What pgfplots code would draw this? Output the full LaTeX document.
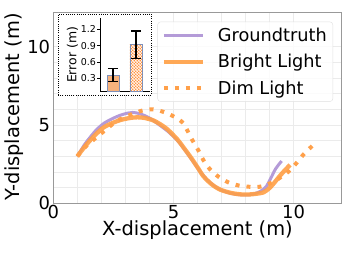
\documentclass[border=0pt]{standalone}
\usepackage{pgfplots}
\pgfplotsset{compat=1.18}
\usepackage{fontspec}
\setmainfont{DejaVu Sans}
\usetikzlibrary{patterns}
\pgfdeclarepatternformonly{densedots}{\pgfpoint{-0.5bp}{-0.5bp}}{\pgfpoint{3.5bp}{3.5bp}}{\pgfpoint{3bp}{3bp}}{%
  \pgfpathcircle{\pgfpoint{0.75bp}{0.75bp}}{0.85bp}%
  \pgfpathcircle{\pgfpoint{2.25bp}{2.25bp}}{0.85bp}%
  \pgfusepath{fill}}
\definecolor{gt}{HTML}{B49BD8}
\definecolor{br}{HTML}{FF9F45}
\definecolor{dimc}{HTML}{FFA04A}
\definecolor{barfill}{HTML}{F7B27C}
\definecolor{baredge}{HTML}{7F90B8}
\definecolor{dotc}{HTML}{FF8A30}
\begin{document}
\begin{tikzpicture}
\path[use as bounding box] (0,0) rectangle (357bp,255bp);
\begin{axis}[
  at={(53.3bp,51.7bp)}, anchor=south west,
  scale only axis, width=288.4bp, height=190.6bp,
  xmin=0, xmax=12, ymin=0, ymax=12.17,
  xtick={0,5,10}, ytick={0,5,10},
  minor tick num=4,
  grid=both,
  major grid style={draw=black!8, line width=0.5bp},
  minor grid style={draw=black!8, line width=0.5bp},
  major tick length=0pt, minor tick length=0pt,
  axis line style={draw=black!40, line width=0.8bp},
  tick label style={font=\fontsize{18}{18}\selectfont},
  /pgf/number format/assume math mode=true,
  xticklabel style={anchor=north, inner sep=0pt, yshift=-2bp},
  yticklabel style={anchor=east, inner sep=0pt, xshift=-3bp},
  xlabel={X-displacement (m)}, ylabel={Y-displacement (m)},
  label style={font=\fontsize{19.5}{19.5}\selectfont},
  xlabel style={at={(axis description cs:0.5,0)}, anchor=north, inner sep=0pt, yshift=-17bp},
  ylabel style={at={(axis description cs:0,0.505)}, anchor=north, inner sep=0pt, yshift=48.3bp},
  legend style={at={(0.970,0.953)}, anchor=north east, draw=black!12, rounded corners=3bp,
    fill=white, fill opacity=0.8, text opacity=1, font=\fontsize{17.8}{17.8}\selectfont,
    inner xsep=4bp, inner ysep=3bp, row sep=6.1bp, column sep=11bp,
    nodes={inner xsep=2bp, inner ysep=3bp, text height=13.5bp, text depth=1bp}},
  legend cell align=left,
  legend image code/.code={\draw[#1] (0bp,0bp) -- (39bp,0bp);},
]
\addplot[gt, line width=3bp, smooth, tension=0.5] coordinates {
(1.0,3.0) (1.3,3.75) (1.55,4.25) (1.8,4.7) (2.1,5.1) (2.45,5.4) (2.8,5.63) (3.1,5.76) (3.3,5.8)
(3.6,5.72) (4.0,5.45) (4.4,5.02) (4.8,4.55) (5.2,3.95) (5.5,3.35) (5.8,2.7) (6.1,2.05) (6.4,1.5)
(6.8,1.0) (7.2,0.72) (7.6,0.57) (8.0,0.53) (8.3,0.58) (8.6,0.75) (8.85,1.05) (9.05,1.6) (9.25,2.2) (9.5,2.7)};
\addlegendentry{Groundtruth}
\addplot[br, line width=4.3bp, opacity=0.9, smooth, tension=0.5] coordinates {
(1.0,3.0) (1.3,3.6) (1.55,4.05) (1.8,4.45) (2.1,4.85) (2.45,5.12) (2.8,5.32) (3.2,5.45) (3.5,5.49)
(3.8,5.45) (4.15,5.3) (4.45,5.05) (4.75,4.72) (5.15,4.1) (5.45,3.5) (5.7,2.98) (6.0,2.3) (6.25,1.72)
(6.6,1.2) (6.95,0.87) (7.4,0.66) (7.8,0.57) (8.1,0.56) (8.4,0.6) (8.75,0.7) (9.0,0.98) (9.2,1.32)
(9.4,1.7) (9.6,2.05) (9.85,2.45)};
\addlegendentry{Bright Light}
\addplot[dimc, line width=4bp, dash pattern=on 4bp off 7bp, smooth, tension=0.5] coordinates {
(1.0,3.0) (1.3,3.55) (1.66,4.04) (2.08,4.57) (2.64,5.25) (3.19,5.64) (3.68,5.91) (4.16,6.0)
(4.65,5.8) (5.06,5.5) (5.41,5.1) (5.76,4.1) (6.03,3.4) (6.24,2.77) (6.52,2.17) (6.87,1.7)
(7.28,1.34) (7.7,1.14) (8.11,1.06) (8.6,1.06) (9.09,1.32) (9.43,1.63) (9.78,2.02) (10.13,2.59)
(10.43,3.15) (10.8,3.7)};
\addlegendentry{Dim Light}
\end{axis}
\draw[black, line width=0.9bp, dash pattern=on 1bp off 1.2bp, fill=white] (58.3bp,160bp) rectangle (151.7bp,240.7bp);
\begin{axis}[
  at={(100bp,163.3bp)}, anchor=south west, scale only axis, width=50bp, height=73.7bp,
  xmin=0.435, xmax=2.61, ymin=0.054, ymax=1.41,
  axis x line*=bottom, axis y line*=left,
  every outer x axis line/.append style={-},
  every outer y axis line/.append style={-},
  xtick=\empty, ytick={0.3,0.6,0.9,1.2},
  yticklabels={0.3,0.6,0.9,1.2},
  tick align=outside, major tick length=3bp,
  axis line style={black, line width=1bp},
  tick style={black, line width=0.8bp},
  tick label style={font=\fontsize{9.5}{9.5}\selectfont},
  yticklabel style={anchor=east, inner sep=0pt, xshift=-1bp},
  ylabel={Error (m)},
  ylabel style={at={(axis description cs:0,0.5)}, anchor=north, inner sep=0pt, yshift=33.3bp, font=\fontsize{12.5}{12.5}\selectfont},
  ybar, bar width=12bp, bar shift=0pt,
]
\addplot[fill=barfill, draw=baredge, line width=0.8bp,
  error bars/.cd, y dir=both, y explicit,
  error bar style={black, line width=1.2bp},
  error mark options={rotate=90, mark size=5bp, black, line width=1.2bp}]
  coordinates {(1,0.36) +- (0,0.12)};
\addplot[pattern=densedots, pattern color=dotc, draw=baredge, line width=0.8bp,
  error bars/.cd, y dir=both, y explicit,
  error bar style={black, line width=1.2bp},
  error mark options={rotate=90, mark size=5bp, black, line width=1.2bp}]
  coordinates {(2,0.92) +- (0,0.25)};
\end{axis}
\end{tikzpicture}
\end{document}
